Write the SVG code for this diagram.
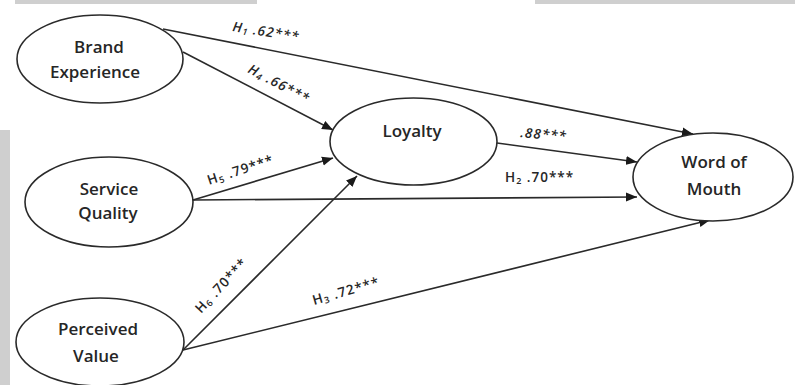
<svg xmlns="http://www.w3.org/2000/svg" width="795" height="385" viewBox="0 0 795 385">
<defs>
<style>
.node ellipse{fill:#fff;stroke:#2a2a2a;stroke-width:1.6}
.node text{font-family:"Open Sans","DejaVu Sans",sans-serif;font-weight:600;font-size:17px;fill:#262626;text-anchor:middle}
.conn line{stroke:#2a2a2a;stroke-width:1.6;marker-end:url(#ah)}
.lbl{font-family:"Open Sans","DejaVu Sans",sans-serif;font-size:13.5px;font-weight:600;fill:#262626;letter-spacing:1px}
.it{font-style:italic}
.bar{fill:#cfcfcf}
</style>
<marker id="ah" markerUnits="userSpaceOnUse" markerWidth="12" markerHeight="10" viewBox="0 0 12 10" refX="11" refY="5" orient="auto">
<path d="M0,0.5 L11,5 L0,9.5 Z" fill="#1a1a1a"/>
</marker>
</defs>
<rect width="795" height="385" fill="#fff"/>
<rect class="bar" x="15" y="0" width="242" height="4"/>
<rect class="bar" x="535" y="0" width="260" height="4"/>
<rect class="bar" x="0" y="130" width="10" height="255"/>

<g id="connectors" class="conn">
<line x1="163" y1="29" x2="693" y2="134"/>
<line x1="183" y1="52" x2="333" y2="130"/>
<line x1="193" y1="200" x2="333" y2="158"/>
<line x1="193" y1="200" x2="637" y2="197"/>
<line x1="183" y1="350" x2="357" y2="176"/>
<line x1="183" y1="350" x2="710" y2="220"/>
<line x1="497" y1="143" x2="637" y2="162"/>
</g>

<g id="node-brand-experience" class="node">
<ellipse cx="100" cy="59" rx="83" ry="44"/>
<text x="99" y="53">Brand</text>
<text x="95" y="78">Experience</text>
</g>
<g id="node-service-quality" class="node">
<ellipse cx="109" cy="202" rx="84" ry="45"/>
<text x="109" y="195">Service</text>
<text x="108" y="219">Quality</text>
</g>
<g id="node-perceived-value" class="node">
<ellipse cx="100" cy="342" rx="84" ry="44"/>
<text x="98" y="335">Perceived</text>
<text x="96" y="362">Value</text>
</g>
<g id="node-loyalty" class="node">
<ellipse cx="413.5" cy="141.5" rx="83.5" ry="43.5"/>
<text x="412" y="137">Loyalty</text>
</g>
<g id="node-word-of-mouth" class="node">
<ellipse cx="713" cy="177" rx="80" ry="44"/>
<text x="714" y="168">Word of</text>
<text x="714" y="195">Mouth</text>
</g>

<g id="labels">
<text class="lbl it" transform="translate(232,31) rotate(9)">H<tspan font-size="9" dy="2">1</tspan><tspan dy="-2"> .62***</tspan></text>
<text class="lbl it" transform="translate(247,72) rotate(28)">H<tspan font-size="9" dy="2">4</tspan><tspan dy="-2"> .66***</tspan></text>
<text class="lbl" transform="translate(209,185) rotate(-18)">H<tspan font-size="9" dy="2">5</tspan><tspan dy="-2"> .79***</tspan></text>
<text class="lbl it" transform="translate(520,137) rotate(5)">.88***</text>
<text class="lbl" x="505" y="182">H<tspan font-size="9" dy="2">2</tspan><tspan dy="-2">  .70***</tspan></text>
<text class="lbl" transform="translate(201,314) rotate(-47)">H<tspan font-size="9" dy="2">6</tspan><tspan dy="-2"> .70***</tspan></text>
<text class="lbl" transform="translate(314,305) rotate(-16)">H<tspan font-size="9" dy="2">3</tspan><tspan dy="-2"> .72***</tspan></text>
</g>
</svg>
